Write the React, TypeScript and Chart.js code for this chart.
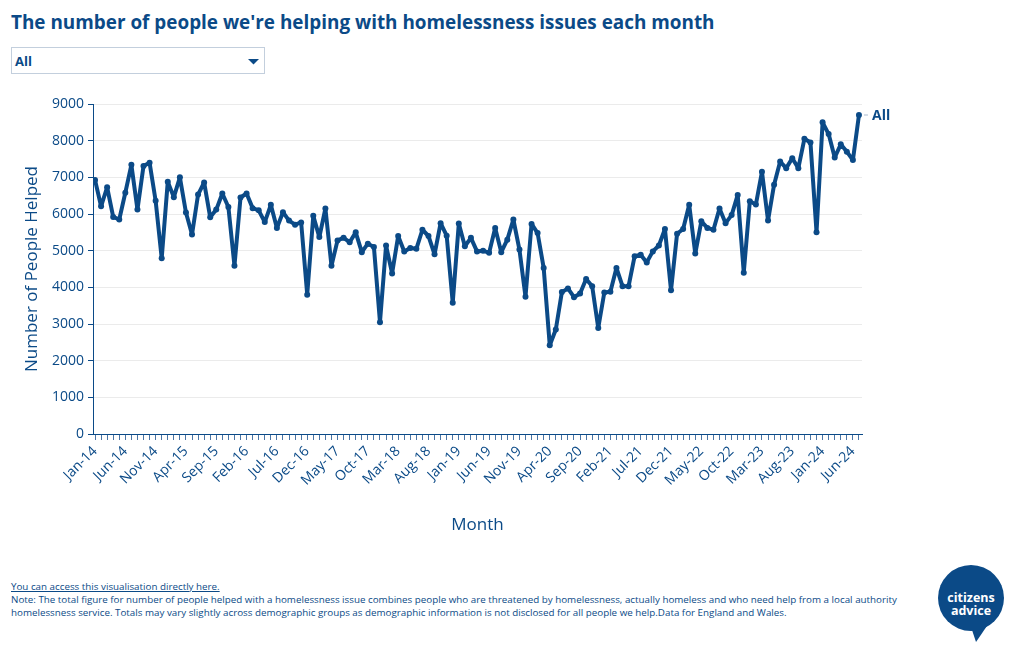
import React, { useEffect, useRef } from "react";
import { Chart, registerables } from "chart.js";

Chart.register(...registerables);

const MONTH_NAMES = ["Jan", "Feb", "Mar", "Apr", "May", "Jun", "Jul", "Aug", "Sep", "Oct", "Nov", "Dec"];
const YEARS = ["14", "15", "16", "17", "18", "19", "20", "21", "22", "23", "24"];

const helped2014 = [6930, 6210, 6730, 5920, 5850, 6580, 7340, 6120, 7310, 7400, 6360, 4790];
const helped2015 = [6880, 6460, 7000, 6040, 5440, 6530, 6860, 5910, 6120, 6560, 6190, 4590];
const helped2016 = [6450, 6560, 6160, 6100, 5780, 6250, 5620, 6050, 5820, 5710, 5770, 3800];
const helped2017 = [5950, 5370, 6150, 4590, 5280, 5350, 5230, 5500, 4960, 5190, 5100, 3050];
const helped2018 = [5140, 4380, 5400, 4980, 5070, 5050, 5570, 5400, 4900, 5750, 5410, 3580];
const helped2019 = [5740, 5120, 5350, 4980, 5000, 4940, 5620, 4960, 5300, 5850, 5030, 3740];
const helped2020 = [5730, 5480, 4530, 2420, 2850, 3870, 3970, 3730, 3830, 4230, 4030, 2890];
const helped2021 = [3860, 3880, 4530, 4030, 4030, 4850, 4890, 4680, 4980, 5140, 5590, 3920];
const helped2022 = [5460, 5590, 6250, 4920, 5800, 5620, 5570, 6150, 5750, 5970, 6520, 4400];
const helped2023 = [6350, 6260, 7150, 5820, 6800, 7430, 7250, 7520, 7250, 8050, 7950, 5500];
const helped2024 = [8500, 8180, 7540, 7900, 7700, 7470, 8700];

const helped = [
  ...helped2014, ...helped2015, ...helped2016, ...helped2017, ...helped2018, ...helped2019,
  ...helped2020, ...helped2021, ...helped2022, ...helped2023, ...helped2024,
];

const months: string[] = [];
YEARS.forEach((y) => MONTH_NAMES.forEach((m) => months.push(`${m}-${y}`)));
const categories = months.slice(0, helped.length);

const SERIES_LABEL = "All";
const LABEL_EVERY = 5;

const NAVY = "#0b4a87";
const FONT = '"Open Sans", "DejaVu Sans", sans-serif';

const endLabel = {
  id: "endLabel",
  afterDatasetsDraw(chart: any) {
    const meta = chart.getDatasetMeta(0);
    const pt = meta.data[meta.data.length - 1];
    if (!pt) return;
    const ctx = chart.ctx;
    ctx.save();
    ctx.strokeStyle = "#a9bbd1";
    ctx.lineWidth = 1;
    ctx.beginPath();
    ctx.moveTo(pt.x + 5, pt.y);
    ctx.lineTo(pt.x + 9, pt.y);
    ctx.stroke();
    ctx.font = `bold 14px ${FONT}`;
    ctx.fillStyle = NAVY;
    ctx.textBaseline = "middle";
    ctx.textAlign = "left";
    ctx.fillText(SERIES_LABEL, pt.x + 13, pt.y + 1);
    ctx.restore();
  },
};

function LineChart() {
  const ref = useRef<HTMLCanvasElement | null>(null);
  useEffect(() => {
    if (!ref.current) return;
    const chart = new Chart(ref.current, {
      type: "line",
      data: {
        datasets: [
          {
            label: SERIES_LABEL,
            data: helped.map((v, i) => ({ x: i, y: v })),
            borderColor: NAVY,
            backgroundColor: NAVY,
            borderWidth: 4,
            borderJoinStyle: "round",
            borderCapStyle: "round",
            pointRadius: 3,
            pointBorderWidth: 0,
            pointBackgroundColor: NAVY,
            tension: 0,
          },
        ],
      },
      options: {
        responsive: false,
        animation: false,
        layout: { padding: { left: 10, right: 150, top: 16, bottom: 9 } },
        plugins: {
          legend: { display: false },
          tooltip: { enabled: false },
          title: { display: false },
        },
        scales: {
          x: {
            type: "linear",
            min: -0.33,
            max: helped.length - 1 + 0.5,
            afterBuildTicks: (s: any) => {
              s.ticks = categories.map((_, i) => ({ value: i }));
            },
            afterFit: (s: any) => {
              s.height = 105;
            },
            ticks: {
              autoSkip: false,
              minRotation: 45,
              maxRotation: 45,
              padding: 3,
              color: NAVY,
              font: { family: FONT, size: 14 },
              callback: (v: any) => (v % LABEL_EVERY === 0 ? categories[v] : ""),
            },
            grid: {
              drawOnChartArea: false,
              drawTicks: true,
              tickLength: 6,
              tickColor: "#4a74a5",
            },
            border: { color: NAVY, width: 1 },
            title: {
              display: true,
              text: "Month",
              color: NAVY,
              font: { family: FONT, size: 17 },
              padding: { top: 4, bottom: 4 },
            },
          },
          y: {
            min: 0,
            max: 9000,
            afterFit: (s: any) => {
              s.width = 75;
            },
            ticks: {
              stepSize: 1000,
              color: NAVY,
              padding: 4,
              font: { family: FONT, size: 14 },
              callback: (v: any) => String(v),
            },
            grid: {
              color: "#ebebeb",
              tickColor: NAVY,
              tickLength: 5,
              lineWidth: 1,
            },
            border: { color: NAVY, width: 1 },
            title: {
              display: true,
              text: "Number of People Helped",
              color: NAVY,
              font: { family: FONT, size: 17 },
              padding: { top: 4, bottom: 4 },
            },
          },
        },
      },
      plugins: [endLabel],
    });
    return () => chart.destroy();
  }, []);
  return (
    <canvas
      ref={ref}
      width={1004}
      height={460}
      style={{ position: "absolute", left: 0, top: 80, width: 1004, height: 460 }}
    />
  );
}

export default function App() {
  return (
    <div
      style={{
        position: "relative",
        width: 1004,
        height: 634,
        fontFamily: FONT,
        color: NAVY,
        overflow: "hidden",
      }}
    >
      <div
        style={{
          position: "absolute",
          left: 3,
          top: 1,
          fontSize: 18.9,
          lineHeight: "26px",
          fontWeight: 700,
          whiteSpace: "nowrap",
        }}
      >
        The number of people we're helping with homelessness issues each month
      </div>
      <div
        style={{
          position: "absolute",
          left: 3,
          top: 39,
          width: 254,
          height: 27,
          boxSizing: "border-box",
          border: "1px solid #c3cfdd",
          background: "#fff",
        }}
      >
        <span
          style={{
            position: "absolute",
            left: 3,
            top: 0,
            lineHeight: "27px",
            fontSize: 13,
            fontWeight: 700,
          }}
        >
          All
        </span>
        <svg
          width="12"
          height="8"
          style={{ position: "absolute", right: 4, top: 10 }}
        >
          <polygon points="0,1 11,1 5.5,6.5" fill={NAVY} />
        </svg>
      </div>
      <LineChart />
      <div
        style={{
          position: "absolute",
          left: 3,
          top: 572,
          fontSize: 9.8,
          lineHeight: "13px",
          whiteSpace: "nowrap",
        }}
      >
        <div style={{ textDecoration: "underline" }}>You can access this visualisation directly here.</div>
        <div>
          Note: The total figure for number of people helped with a homelessness issue combines people who are threatened by homelessness, actually homeless and who need help from a local authority
        </div>
        <div>
          homelessness service. Totals may vary slightly across demographic groups as demographic information is not disclosed for all people we help.Data for England and Wales.
        </div>
      </div>
      <svg
        width="72"
        height="82"
        style={{ position: "absolute", left: 927, top: 555 }}
      >
        <path d="M 36 64 L 41 79 L 54 60 Z" fill={NAVY} />
        <circle cx="36" cy="35" r="33" fill={NAVY} />
        <text
          x="36"
          y="39"
          fill="#fff"
          fontSize="12.5"
          fontWeight="700"
          textAnchor="middle"
          fontFamily={FONT}
        >
          citizens
        </text>
        <text
          x="36"
          y="52"
          fill="#fff"
          fontSize="12.5"
          fontWeight="700"
          textAnchor="middle"
          fontFamily={FONT}
        >
          advice
        </text>
      </svg>
    </div>
  );
}
